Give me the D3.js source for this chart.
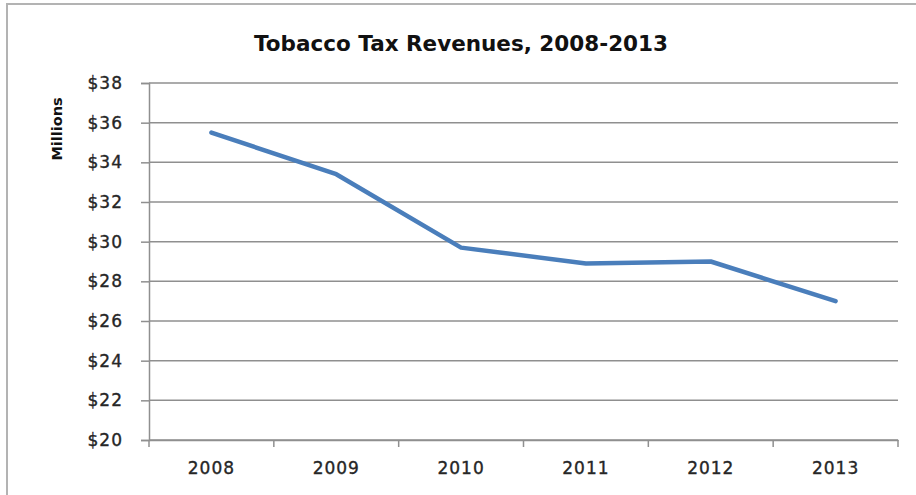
<!DOCTYPE html>
<html>
<head>
<meta charset="utf-8">
<script src="https://cdn.jsdelivr.net/npm/d3@7"></script>
<style>
  html, body { margin: 0; padding: 0; background: #fff; }
  svg { display: block; }
</style>
</head>
<body>
<svg id="chart" width="916" height="495"></svg>
<script>
// Tobacco tax revenues by year, in millions of dollars
const years = ["2008", "2009", "2010", "2011", "2012", "2013"];
const revenues = [35.5, 33.4, 29.7, 28.9, 29.0, 27.0];
const yTicks = [20, 22, 24, 26, 28, 30, 32, 34, 36, 38];

const W = 916, H = 495;
const plot = { left: 149, right: 898, top: 83, bottom: 440 };
const gridColor = "#8f8f8f";
const lineColor = "#4a7ebb";
const textColor = "#262626";

const svg = d3.select("#chart");

// outer frame (top and left edges)
svg.append("path")
  .attr("d", `M7,${H} V4 H${W}`)
  .attr("fill", "none")
  .attr("stroke", "#b3b3b3")
  .attr("stroke-width", 2);

const x = d3.scaleBand().domain(years).range([plot.left, plot.right]).padding(0);
const y = d3.scaleLinear().domain([20, 38]).range([plot.bottom, plot.top]);

// horizontal gridlines
svg.append("g")
  .selectAll("line")
  .data(yTicks)
  .join("line")
  .attr("x1", plot.left)
  .attr("x2", plot.right)
  .attr("y1", d => y(d))
  .attr("y2", d => y(d))
  .attr("stroke", gridColor)
  .attr("stroke-width", 1.5);

function styleTickText(sel) {
  sel.attr("font-family", "DejaVu Sans")
    .attr("font-size", 17)
    .attr("letter-spacing", 1)
    .attr("fill", textColor)
    .attr("stroke", textColor)
    .attr("stroke-width", 0.35);
}

// y axis
const yAxis = svg.append("g")
  .attr("transform", `translate(${plot.left},0)`)
  .call(d3.axisLeft(y).tickValues(yTicks).tickSize(8).tickPadding(18)
    .tickFormat(d => "$" + d));
yAxis.select(".domain").attr("stroke", gridColor).attr("stroke-width", 1.5);
yAxis.selectAll(".tick line").attr("stroke", gridColor).attr("stroke-width", 1.5);
yAxis.selectAll(".tick text").call(styleTickText);

// x axis: labels centered in each band, tick marks on band edges
const xAxis = svg.append("g")
  .attr("transform", `translate(0,${plot.bottom})`)
  .call(d3.axisBottom(x).tickSize(0).tickPadding(22));
xAxis.select(".domain").attr("stroke", gridColor).attr("stroke-width", 1.5);
xAxis.selectAll(".tick line").remove();
xAxis.selectAll(".tick text").call(styleTickText);

const edges = years.map(d => x(d)).concat([x.range()[1]]);
xAxis.selectAll("line.edge")
  .data(edges)
  .join("line")
  .attr("class", "edge")
  .attr("x1", d => d)
  .attr("x2", d => d)
  .attr("y1", 0)
  .attr("y2", 7)
  .attr("stroke", gridColor)
  .attr("stroke-width", 1.5);

// revenue line
const line = d3.line()
  .x((d, i) => x(years[i]) + x.bandwidth() / 2)
  .y(d => y(d));

svg.append("path")
  .datum(revenues)
  .attr("d", line)
  .attr("fill", "none")
  .attr("stroke", lineColor)
  .attr("stroke-width", 4.5)
  .attr("stroke-linejoin", "round")
  .attr("stroke-linecap", "round");

// title
svg.append("text")
  .attr("x", 461)
  .attr("y", 51)
  .attr("text-anchor", "middle")
  .attr("font-family", "DejaVu Sans")
  .attr("font-weight", "bold")
  .attr("font-size", 21.5)
  .attr("fill", "#111")
  .text("Tobacco Tax Revenues, 2008-2013");

// y axis title
svg.append("text")
  .attr("transform", "translate(62,129) rotate(-90)")
  .attr("text-anchor", "middle")
  .attr("font-family", "DejaVu Sans")
  .attr("font-weight", "bold")
  .attr("font-size", 14.5)
  .attr("fill", "#111")
  .text("Millions");
</script>
</body>
</html>
